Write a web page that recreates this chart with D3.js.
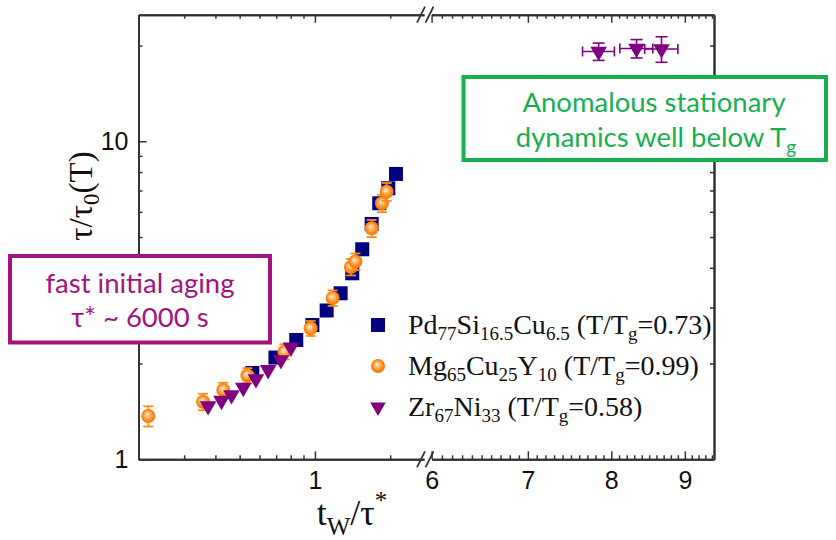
<!DOCTYPE html>
<html lang="en">

<head>
    <meta charset="UTF-8">
    <script src="https://d3js.org/d3.v7.min.js"></script>
    <title>Aging</title>
    <style>
        body {
            margin: 0;
            background: #fff;
        }

        svg {
            display: block;
        }
    </style>
</head>

<body>
    <script>
        // Pd77Si16.5Cu6.5 (squares)
        var pdX = [0.562, 0.695, 0.842, 0.977, 1.114, 1.267, 1.410, 1.546, 1.686, 1.808, 1.965, 2.109]
        var pdY = [1.868, 2.089, 2.372, 2.644, 2.937, 3.327, 3.845, 4.575, 5.495, 6.383, 7.115, 7.893]

        // Mg65Cu25Y10 (circles, with y error)
        var mgX = [0.2155, 0.357, 0.430, 0.537, 0.755, 0.961, 1.177, 1.393, 1.452, 1.686, 1.854, 1.936]
        var mgY = [1.368, 1.517, 1.651, 1.835, 2.180, 2.582, 3.216, 4.025, 4.188, 5.326, 6.383, 6.942]
        var mgErr = [0.10, 0.09, 0.09, 0.10, 0.12, 0.14, 0.18, 0.24, 0.25, 0.33, 0.40, 0.45]

        // Zr67Ni33 (triangles)
        var zrX = [0.374, 0.423, 0.464, 0.517, 0.581, 0.650, 0.731, 0.802]
        var zrY = [1.471, 1.529, 1.593, 1.680, 1.789, 1.910, 2.053, 2.250]
        var zrLateX = [7.84, 8.33, 8.67]
        var zrLateY = [19.16, 19.58, 19.51]
        var zrLateXErr = [0.20, 0.22, 0.23]
        var zrLateYErr = [1.2, 1.3, 1.8]

        // ticks
        var xMajorLeft = [1]
        var xMinorLeft = [0.3, 0.4, 0.5, 0.6, 0.7, 0.8, 0.9, 2]
        var xMajorRight = [6, 7, 8, 9]
        var xMinorRight = d3.range(61, 95).filter(function (v) { return v % 10 != 0 }).map(function (v) { return v / 10 })
        var yMajor = [1, 10]
        var yMinor = [2, 3, 4, 5, 6, 7, 8, 9, 20]

        var legendItems = [
            { sym: "square", color: "#000080", parts: [["Pd"], ["77", "sub"], ["Si"], ["16.5", "sub"], ["Cu"], ["6.5", "sub"], [" (T/T"], ["g", "sub"], ["=0.73)"]] },
            { sym: "circle", color: "#ff8c1a", parts: [["Mg"], ["65", "sub"], ["Cu"], ["25", "sub"], ["Y"], ["10", "sub"], [" (T/T"], ["g", "sub"], ["=0.99)"]] },
            { sym: "triangle", color: "#800080", parts: [["Zr"], ["67", "sub"], ["Ni"], ["33", "sub"], [" (T/T"], ["g", "sub"], ["=0.58)"]] }
        ]

        var serif = "'Liberation Serif', 'Times New Roman', serif"
        var sans = "'Liberation Sans', Arial, sans-serif"
        var boxFont = "Lato, 'Open Sans', sans-serif"

        var svg = d3.select("body").append("svg")
            .attr("width", 836)
            .attr("height", 540)

        var xL = d3.scaleLog().domain([0.197, 2.73]).range([138.5, 424])
        var xR = d3.scaleLog().domain([6, 9.43]).range([431.6, 714])
        var y = d3.scaleLog().domain([1, 25]).range([459.3, 14.7])
        var yTop = y.range()[1], yBottom = y.range()[0]

        // gradient for the orange balls
        var grad = svg.append("defs").append("radialGradient")
            .attr("id", "ball").attr("cx", "50%").attr("cy", "50%").attr("r", "55%")
            .attr("fx", "42%").attr("fy", "38%")
        grad.append("stop").attr("offset", "0%").attr("stop-color", "#fff4e6")
        grad.append("stop").attr("offset", "30%").attr("stop-color", "#ffbf80")
        grad.append("stop").attr("offset", "65%").attr("stop-color", "#ff8c1a")
        grad.append("stop").attr("offset", "100%").attr("stop-color", "#f07300")

        function styleAxis(g) {
            g.select(".domain").attr("stroke", "#333").attr("stroke-width", 2)
            g.selectAll(".tick line").attr("stroke", "#333").attr("stroke-width", 1.5)
            g.selectAll(".tick text").attr("font-family", sans).attr("font-size", 25).attr("fill", "#111")
        }

        function addAxis(axis, tx, ty) {
            var g = svg.append("g").attr("transform", "translate(" + tx + "," + ty + ")").call(axis)
            styleAxis(g)
            return g
        }

        // bottom + top, left piece and right piece
        addAxis(d3.axisBottom(xL).tickValues(xMinorLeft).tickSize(-4).tickSizeOuter(0).tickFormat(""), 0, yBottom)
        addAxis(d3.axisBottom(xL).tickValues(xMajorLeft).tickSize(-8).tickSizeOuter(0).tickPadding(12).tickFormat(d3.format("d")), 0, yBottom)
        addAxis(d3.axisBottom(xR).tickValues(xMinorRight).tickSize(-4).tickSizeOuter(0).tickFormat(""), 0, yBottom)
        addAxis(d3.axisBottom(xR).tickValues(xMajorRight).tickSize(-8).tickSizeOuter(0).tickPadding(12).tickFormat(d3.format("d")), 0, yBottom)
        addAxis(d3.axisTop(xL).tickValues(xMinorLeft).tickSize(-4).tickSizeOuter(0).tickFormat(""), 0, yTop)
        addAxis(d3.axisTop(xL).tickValues(xMajorLeft).tickSize(-8).tickSizeOuter(0).tickFormat(""), 0, yTop)
        addAxis(d3.axisTop(xR).tickValues(xMinorRight).tickSize(-4).tickSizeOuter(0).tickFormat(""), 0, yTop)
        addAxis(d3.axisTop(xR).tickValues(xMajorRight).tickSize(-8).tickSizeOuter(0).tickFormat(""), 0, yTop)

        // left + right
        addAxis(d3.axisLeft(y).tickValues(yMinor).tickSize(-4).tickSizeOuter(0).tickFormat(""), xL.range()[0], 0)
        addAxis(d3.axisLeft(y).tickValues(yMajor).tickSize(-8).tickSizeOuter(0).tickPadding(10).tickFormat(d3.format("d")), xL.range()[0], 0)
        addAxis(d3.axisRight(y).tickValues(yMinor).tickSize(-4).tickSizeOuter(0).tickFormat(""), xR.range()[1], 0)
        addAxis(d3.axisRight(y).tickValues(yMajor).tickSize(-8).tickSizeOuter(0).tickFormat(""), xR.range()[1], 0)

        // axis break marks
        var breakX = [421, 429.5]
        ;[yTop, yBottom].forEach(function (yy) {
            breakX.forEach(function (bx) {
                svg.append("line")
                    .attr("x1", bx - 4).attr("y1", yy + 8)
                    .attr("x2", bx + 4).attr("y2", yy - 8)
                    .attr("stroke", "#333").attr("stroke-width", 1.8)
            })
        })

        // symbols
        var triangle = d3.symbol().type(d3.symbolTriangle).size(120)
        var triangleLegend = d3.symbol().type(d3.symbolTriangle).size(105)

        // Pd squares
        svg.append("g").selectAll("rect")
            .data(d3.zip(pdX, pdY))
            .join("rect")
            .attr("x", function (d) { return xL(d[0]) - 7 })
            .attr("y", function (d) { return y(d[1]) - 7 })
            .attr("width", 14).attr("height", 14)
            .attr("fill", "#000080")

        // Mg circles with error bars
        var mg = svg.append("g").selectAll("g")
            .data(d3.zip(mgX, mgY, mgErr))
            .join("g")
        mg.append("line")
            .attr("x1", function (d) { return xL(d[0]) })
            .attr("x2", function (d) { return xL(d[0]) })
            .attr("y1", function (d) { return y(d[1] - d[2]) })
            .attr("y2", function (d) { return y(d[1] + d[2]) })
            .attr("stroke", "#ff8c1a").attr("stroke-width", 1.6)
        mg.selectAll(".cap")
            .data(function (d) { return [[d[0], d[1] - d[2]], [d[0], d[1] + d[2]]] })
            .join("line")
            .attr("class", "cap")
            .attr("x1", function (d) { return xL(d[0]) - 5 })
            .attr("x2", function (d) { return xL(d[0]) + 5 })
            .attr("y1", function (d) { return y(d[1]) })
            .attr("y2", function (d) { return y(d[1]) })
            .attr("stroke", "#ff8c1a").attr("stroke-width", 1.8)
        mg.append("circle")
            .attr("cx", function (d) { return xL(d[0]) })
            .attr("cy", function (d) { return y(d[1]) })
            .attr("r", 7)
            .attr("fill", "url(#ball)")

        // Zr triangles
        svg.append("g").selectAll("path")
            .data(d3.zip(zrX, zrY))
            .join("path")
            .attr("d", triangle)
            .attr("transform", function (d) { return "translate(" + xL(d[0]) + "," + y(d[1]) + ") rotate(180)" })
            .attr("fill", "#800080")

        // Zr late points (right piece) with x and y error bars
        var zl = svg.append("g").selectAll("g")
            .data(d3.zip(zrLateX, zrLateY, zrLateXErr, zrLateYErr))
            .join("g")
            .attr("stroke", "#800080").attr("stroke-width", 1.6)
        zl.append("line")
            .attr("x1", function (d) { return xR(d[0] - d[2]) })
            .attr("x2", function (d) { return xR(d[0] + d[2]) })
            .attr("y1", function (d) { return y(d[1]) })
            .attr("y2", function (d) { return y(d[1]) })
        zl.append("line")
            .attr("x1", function (d) { return xR(d[0]) })
            .attr("x2", function (d) { return xR(d[0]) })
            .attr("y1", function (d) { return y(d[1] - d[3]) })
            .attr("y2", function (d) { return y(d[1] + d[3]) })
        zl.each(function (d) {
            var g = d3.select(this)
            ;[d[0] - d[2], d[0] + d[2]].forEach(function (v) {
                g.append("line").attr("x1", xR(v)).attr("x2", xR(v))
                    .attr("y1", y(d[1]) - 5).attr("y2", y(d[1]) + 5)
            })
            ;[d[1] - d[3], d[1] + d[3]].forEach(function (v) {
                g.append("line").attr("x1", xR(d[0]) - 6).attr("x2", xR(d[0]) + 6)
                    .attr("y1", y(v)).attr("y2", y(v))
            })
        })
        zl.append("path")
            .attr("d", triangle)
            .attr("stroke", "none")
            .attr("transform", function (d) { return "translate(" + xR(d[0]) + "," + y(d[1]) + ") rotate(180)" })
            .attr("fill", "#800080")

        // text with sub/superscripts
        function richText(sel, parts, size, shift, supShift) {
            var cur = 0
            parts.forEach(function (p) {
                var target = p[1] == "sub" ? shift : p[1] == "sup" ? -(supShift || shift) : 0
                var t = sel.append("tspan").text(p[0]).attr("dy", target - cur)
                if (p[1]) t.attr("font-size", size)
                cur = target
            })
        }

        // legend
        var lg = svg.append("g")
        legendItems.forEach(function (it, i) {
            var cy = 325 + i * 41
            if (it.sym == "square") {
                lg.append("rect").attr("x", 371).attr("y", cy - 7).attr("width", 14).attr("height", 14).attr("fill", it.color)
            } else if (it.sym == "circle") {
                lg.append("circle").attr("cx", 378).attr("cy", cy).attr("r", 7).attr("fill", "url(#ball)")
            } else {
                lg.append("path").attr("d", triangleLegend).attr("transform", "translate(378," + cy + ") rotate(180)").attr("fill", it.color)
            }
            var t = lg.append("text")
                .attr("x", 408).attr("y", cy + 9)
                .attr("font-family", serif).attr("font-size", 28).attr("fill", "#111")
            richText(t, it.parts, 19, 6)
        })

        // axis titles
        var yt = svg.append("text")
            .attr("transform", "translate(92,196) rotate(-90)")
            .attr("text-anchor", "middle")
            .attr("font-family", serif).attr("font-size", 33).attr("fill", "#111")
        richText(yt, [["τ/τ"], ["0", "sub"], ["(T)"]], 23, 7)

        var xt = svg.append("text")
            .attr("x", 352).attr("y", 525)
            .attr("text-anchor", "middle")
            .attr("font-family", serif).attr("font-size", 36).attr("fill", "#111")
        richText(xt, [["t"], ["W", "sub"], ["/τ"], ["*", "sup"]], 25, 10, 16)

        // annotation boxes
        function box(x0, y0, x1, y1, color, lines) {
            svg.append("rect")
                .attr("x", x0).attr("y", y0).attr("width", x1 - x0).attr("height", y1 - y0)
                .attr("fill", "#fff").attr("stroke", color).attr("stroke-width", 4)
            lines.forEach(function (l) {
                var t = svg.append("text")
                    .attr("x", l.x).attr("y", l.y)
                    .attr("text-anchor", "middle")
                    .attr("font-family", boxFont).attr("font-size", 27.5).attr("fill", color)
                richText(t, l.parts, 19, 7)
            })
        }

        box(10, 256, 270, 342.5, "#a3137f", [
            { x: 140, y: 293, parts: [["fast initial aging"]] },
            { x: 140, y: 327, parts: [["τ* ~ 6000 s"]] }
        ])
        box(463.5, 77, 826, 160, "#16b04f", [
            { x: 654, y: 111.5, parts: [["Anomalous stationary"]] },
            { x: 656, y: 146.5, parts: [["dynamics well below T"], ["g", "sub"]] }
        ])
    </script>
</body>

</html>
